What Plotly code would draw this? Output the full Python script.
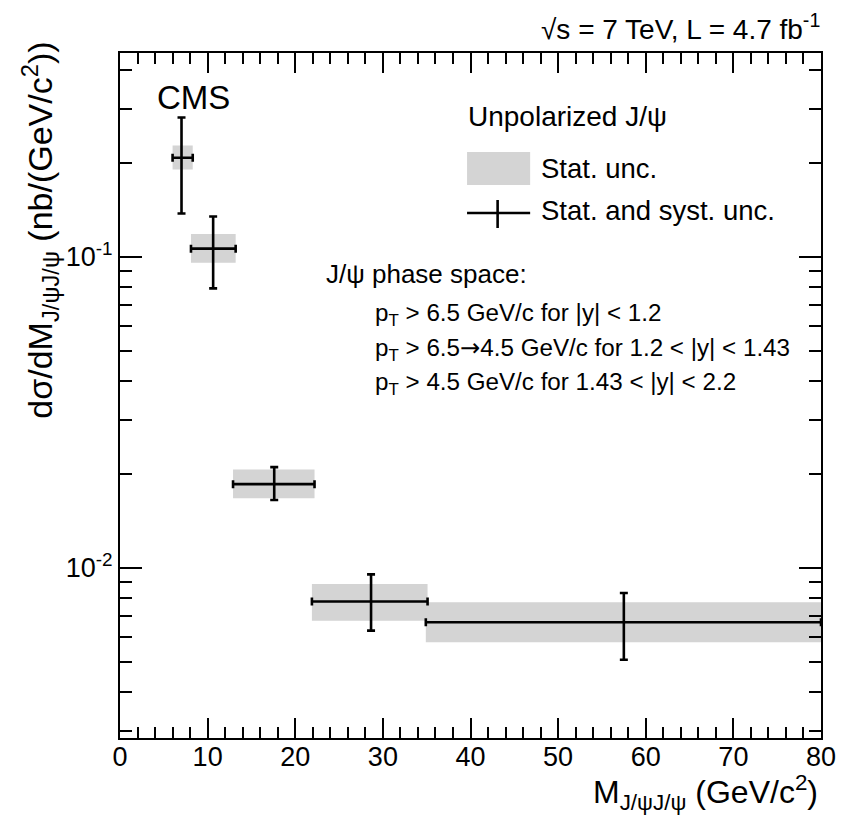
import plotly.graph_objects as go

# ---- data ----
x_center = [7.02, 10.63, 17.6, 28.65, 57.5]
bin_lo = [6.0, 8.1, 12.9, 21.9, 34.9]
bin_hi = [8.3, 13.2, 22.2, 35.1, 80.0]
xsec = [0.2086, 0.1064, 0.0186, 0.0078, 0.00669]
tot_hi = [0.281, 0.1350, 0.0211, 0.00954, 0.00831]
tot_lo = [0.1380, 0.0793, 0.01655, 0.00629, 0.00507]
stat_hi = [0.2285, 0.1186, 0.02075, 0.00888, 0.00776]
stat_lo = [0.1910, 0.0958, 0.01675, 0.00676, 0.00577]

x_major = [0, 10, 20, 30, 40, 50, 60, 70, 80]
y_major = [0.01, 0.1]
y_major_text = ["10<sup>-2</sup>", "10<sup>-1</sup>"]
y_minor = [0.003, 0.004, 0.005, 0.006, 0.007, 0.008, 0.009,
           0.02, 0.03, 0.04, 0.05, 0.06, 0.07, 0.08, 0.09,
           0.2, 0.3, 0.4]

FONT = "Liberation Sans"
GRAY = "#d4d4d4"

W, H = 848, 818
# plot area in pixels
L, R, T, B = 120, 831, 53, 738


def px(x):
    return (x - L) / (R - L)


def py(y):
    return (B - y) / (B - T)


fig = go.Figure()

# statistical uncertainty boxes
bx, by = [], []
for lo, hi, slo, shi in zip(bin_lo, bin_hi, stat_lo, stat_hi):
    bx += [lo, hi, hi, lo, lo, None]
    by += [slo, slo, shi, shi, slo, None]
fig.add_trace(go.Scatter(x=bx, y=by, mode="lines", fill="toself",
                         fillcolor=GRAY, line=dict(width=0, color=GRAY),
                         hoverinfo="skip", showlegend=False))

# total uncertainty crosses
fig.add_trace(go.Scatter(
    x=x_center, y=xsec, mode="markers",
    marker=dict(size=1, color="black"),
    error_x=dict(type="data", symmetric=False,
                 array=[h - c for h, c in zip(bin_hi, x_center)],
                 arrayminus=[c - l for l, c in zip(bin_lo, x_center)],
                 color="black", thickness=2.6, width=4),
    error_y=dict(type="data", symmetric=False,
                 array=[h - v for h, v in zip(tot_hi, xsec)],
                 arrayminus=[v - l for l, v in zip(tot_lo, xsec)],
                 color="black", thickness=2.6, width=4),
    showlegend=False))

tickfont = dict(family=FONT, size=27, color="black")

fig.update_xaxes(range=[0, 80], tickvals=x_major, ticks="inside", ticklen=20,
                 tickwidth=2, tickcolor="black", showline=True, linewidth=2,
                 linecolor="black", mirror="ticks", showgrid=False, zeroline=False,
                 tickfont=tickfont, ticklabelstandoff=-6,
                 minor=dict(dtick=2, ticks="inside", ticklen=11, tickwidth=2,
                            tickcolor="black", showgrid=False))
fig.update_yaxes(type="log", range=[-2.5467, -0.344], tickvals=y_major,
                 ticktext=y_major_text, ticks="inside", ticklen=22, tickwidth=2,
                 tickcolor="black", showline=True, linewidth=2, linecolor="black",
                 mirror="ticks", showgrid=False, zeroline=False, tickfont=tickfont,
                 minor=dict(tickvals=y_minor, ticks="inside", ticklen=12,
                            tickwidth=2, tickcolor="black", showgrid=False))

ann = []


def text(x, y, s, size, xanchor="left", yanchor="middle", angle=0):
    ann.append(dict(x=x, y=y, xref="paper", yref="paper", text=s, showarrow=False,
                    xanchor=xanchor, yanchor=yanchor, textangle=angle,
                    font=dict(family=FONT, size=size, color="black")))


ARROW = "<span style='font-family:DejaVu Sans'>→</span>"

text(px(832), py(27), "√s = 7 TeV, L = 4.7 fb<sup>-1</sup>", 28, xanchor="right")
text(px(155), py(97), "CMS", 33)
text(px(471), py(117), "Unpolarized J/ψ", 28)
text(px(545), py(168), "Stat. unc.", 27.5)
text(px(545), py(211), "Stat. and syst. unc.", 27.5)
text(px(327), py(274), "J/ψ phase space:", 26)
text(px(377), py(315), "p<sub>T</sub> &gt; 6.5 GeV/c for |y| &lt; 1.2", 24.2)
text(px(377), py(349), "p<sub>T</sub> &gt; 6.5" + ARROW + "4.5 GeV/c for 1.2 &lt; |y| &lt; 1.43", 24.2)
text(px(377), py(383), "p<sub>T</sub> &gt; 4.5 GeV/c for 1.43 &lt; |y| &lt; 2.2", 24.2)
text(px(830), py(792), "M<sub>J/ψJ/ψ</sub> (GeV/c<sup>2</sup>)", 32, xanchor="right")
text(px(38), py(40), "dσ/dM<sub>J/ψJ/ψ</sub> (nb/(GeV/c<sup>2</sup>))", 34,
     xanchor="center", yanchor="top", angle=-90)

shapes = [
    dict(type="rect", xref="paper", yref="paper", x0=px(472), x1=px(536),
         y0=py(152), y1=py(185), fillcolor=GRAY, line=dict(width=0)),
    dict(type="line", xref="paper", yref="paper", x0=px(472), x1=px(536),
         y0=py(213), y1=py(213), line=dict(color="black", width=2.6)),
    dict(type="line", xref="paper", yref="paper", x0=px(503), x1=px(503),
         y0=py(200), y1=py(228), line=dict(color="black", width=2.6)),
]

fig.update_layout(width=W, height=H,
                  margin=dict(l=L, r=W - R, t=T, b=H - B),
                  plot_bgcolor="white", paper_bgcolor="white",
                  annotations=ann, shapes=shapes, showlegend=False)

fig.write_html("out.html")
